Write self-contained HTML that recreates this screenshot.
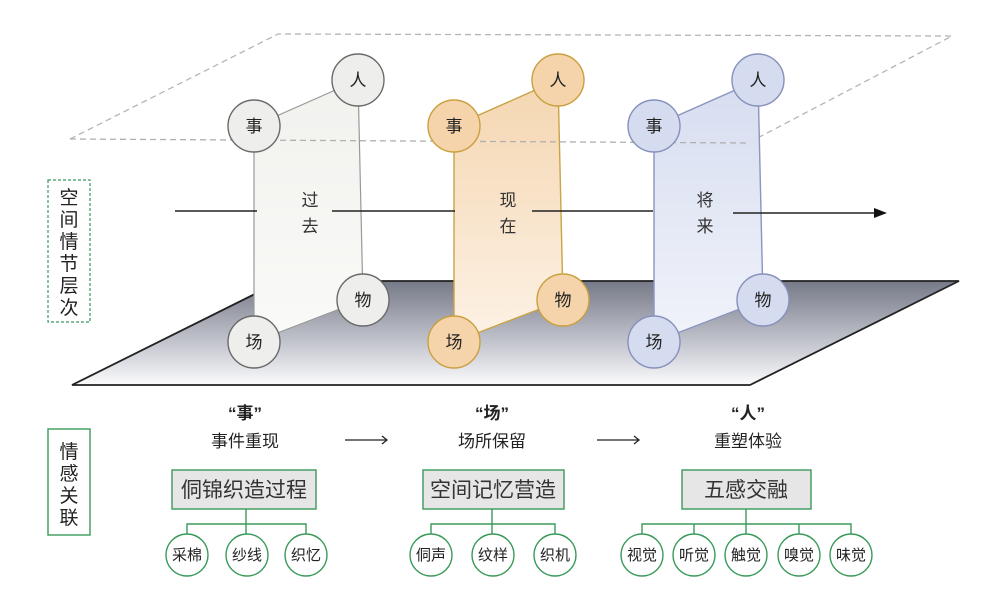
<!DOCTYPE html>
<html><head><meta charset="utf-8"><style>
html,body{margin:0;padding:0;background:#fff;}
svg text{font-family:"Liberation Sans","Noto Sans CJK SC",sans-serif;}
</style></head><body>
<svg width="997" height="591" viewBox="0 0 997 591" xmlns="http://www.w3.org/2000/svg">
<defs>
<linearGradient id="floor" x1="0" y1="0" x2="0" y2="1">
<stop offset="0" stop-color="#767987"/><stop offset="0.6" stop-color="#c4c6cf"/><stop offset="1" stop-color="#fbfbfc"/></linearGradient>
<linearGradient id="p1" x1="0" y1="0" x2="0" y2="1"><stop offset="0" stop-color="#f1f1ee"/><stop offset="1" stop-color="#fafaf8"/></linearGradient>
<linearGradient id="p2" x1="0" y1="0" x2="0" y2="1"><stop offset="0" stop-color="#f4d6b0"/><stop offset="1" stop-color="#fdf2e6"/></linearGradient>
<linearGradient id="p3" x1="0" y1="0" x2="0" y2="1"><stop offset="0" stop-color="#d6ddf0"/><stop offset="1" stop-color="#f1f3fa"/></linearGradient>
</defs>
<!-- dashed top plane -->
<polyline points="70,139 278,34 952,36 748,143" fill="none" stroke="#b5b5b5" stroke-width="1.3" stroke-dasharray="6,4"/>
<!-- floor -->
<polygon points="72,385 281,281 959,281 750,385" fill="url(#floor)" stroke="#222" stroke-width="1.8"/>
<!-- panels -->
<polygon points="254,126 358,80 363,300 254,342" fill="url(#p1)" stroke="#999" stroke-width="1.2"/>
<polygon points="454,126 558,80 563,300 454,342" fill="url(#p2)" stroke="#c9a445" stroke-width="1.4"/>
<polygon points="654,126 758,80 763,300 654,342" fill="url(#p3)" stroke="#8a95c0" stroke-width="1.4"/>
<line x1="70" y1="139" x2="748" y2="143" stroke="#b0b0b0" stroke-width="1.3" stroke-dasharray="6,4"/>
<!-- timeline -->
<g stroke="#222" stroke-width="1.5">
<line x1="175" y1="211" x2="257" y2="211"/>
<line x1="332" y1="211" x2="455" y2="211"/>
<line x1="532" y1="211" x2="653" y2="211"/>
<line x1="733" y1="213" x2="876" y2="213"/>
</g>
<polygon points="874,208 887,213 874,218" fill="#111"/>
<g font-size="17" fill="#333" text-anchor="middle">
<text x="310" y="206">过</text><text x="310" y="232">去</text>
<text x="508" y="206">现</text><text x="508" y="232">在</text>
<text x="705" y="206">将</text><text x="705" y="232">来</text>
</g>
<!-- circles -->
<g stroke-width="1.4">
<g stroke="#6a6a6a"><circle cx="254" cy="126" r="26" fill="#eeeeec"/><circle cx="358" cy="80" r="26" fill="#eeeeec"/><circle cx="363" cy="300" r="26" fill="#eeeeec"/><circle cx="254" cy="342" r="26" fill="#eeeeec"/></g>
<g stroke="#c9a040"><circle cx="454" cy="126" r="26" fill="#f5d3ab"/><circle cx="558" cy="80" r="26" fill="#f5d3ab"/><circle cx="563" cy="300" r="26" fill="#f5d3ab"/><circle cx="454" cy="342" r="26" fill="#f5d3ab"/></g>
<g stroke="#8790bb"><circle cx="654" cy="126" r="26" fill="#d5dcef"/><circle cx="758" cy="80" r="26" fill="#d5dcef"/><circle cx="763" cy="300" r="26" fill="#d5dcef"/><circle cx="654" cy="342" r="26" fill="#d5dcef"/></g>
</g>
<g font-size="17" text-anchor="middle" fill="#222">
<text x="254" y="132">事</text><text x="358" y="86">人</text><text x="363" y="306">物</text><text x="254" y="348">场</text>
<text x="454" y="132">事</text><text x="558" y="86">人</text><text x="563" y="306">物</text><text x="454" y="348">场</text>
<text x="654" y="132">事</text><text x="758" y="86">人</text><text x="763" y="306">物</text><text x="654" y="348">场</text>
</g>
<!-- left labels -->
<rect x="48" y="180" width="42" height="142" fill="none" stroke="#3a9a5a" stroke-width="1.2" stroke-dasharray="3,2"/>
<g font-size="19" text-anchor="middle" fill="#222">
<text x="69" y="204">空</text><text x="69" y="226">间</text><text x="69" y="248">情</text><text x="69" y="270">节</text><text x="69" y="292">层</text><text x="69" y="314">次</text>
</g>
<rect x="48" y="429" width="42" height="106" fill="none" stroke="#3a9a5a" stroke-width="1.4"/>
<g font-size="19" text-anchor="middle" fill="#222">
<text x="69" y="458">情</text><text x="69" y="480">感</text><text x="69" y="502">关</text><text x="69" y="524">联</text>
</g>
<!-- bottom titles -->
<g font-size="17" text-anchor="middle" fill="#222">
<text x="245" y="419" font-weight="bold">“事”</text><text x="245" y="447">事件重现</text>
<text x="492" y="419" font-weight="bold">“场”</text><text x="492" y="447">场所保留</text>
<text x="748" y="419" font-weight="bold">“人”</text><text x="748" y="447">重塑体验</text>
</g>
<g stroke="#222" stroke-width="1.3">
<line x1="345" y1="440" x2="387" y2="440"/><polyline points="382,436 387,440 382,444" fill="none"/>
<line x1="597" y1="440" x2="639" y2="440"/><polyline points="634,436 639,440 634,444" fill="none"/>
</g>
<!-- boxes -->
<g fill="#e6e6e6" stroke="#3a9a5a" stroke-width="1.4">
<rect x="172" y="470" width="144" height="39"/>
<rect x="423" y="470" width="141" height="39"/>
<rect x="682" y="470" width="129" height="39"/>
</g>
<g font-size="21" text-anchor="middle" fill="#333">
<text x="244" y="497">侗锦织造过程</text>
<text x="493" y="497">空间记忆营造</text>
<text x="746" y="497">五感交融</text>
</g>
<!-- tree lines -->
<g stroke="#3a9a5a" stroke-width="1.4" fill="none">
<line x1="246" y1="509" x2="246" y2="524"/><polyline points="187,534 187,524 306,524 306,534"/><line x1="246" y1="524" x2="246" y2="534"/>
<line x1="492" y1="509" x2="492" y2="524"/><polyline points="431,534 431,524 555,524 555,534"/><line x1="492" y1="524" x2="492" y2="534"/>
<line x1="746" y1="509" x2="746" y2="524"/><polyline points="642,534 642,524 851,524 851,534"/><line x1="694" y1="524" x2="694" y2="534"/><line x1="746" y1="524" x2="746" y2="534"/><line x1="799" y1="524" x2="799" y2="534"/>
</g>
<g fill="#fff" stroke="#3a9a5a" stroke-width="1.4">
<circle cx="187" cy="555" r="21"/><circle cx="247" cy="555" r="21"/><circle cx="306" cy="555" r="21"/>
<circle cx="431" cy="555" r="21"/><circle cx="493" cy="555" r="21"/><circle cx="555" cy="555" r="21"/>
<circle cx="642" cy="555" r="21"/><circle cx="694" cy="555" r="21"/><circle cx="746" cy="555" r="21"/><circle cx="799" cy="555" r="21"/><circle cx="851" cy="555" r="21"/>
</g>
<g font-size="15" text-anchor="middle" fill="#222">
<text x="187" y="560">采棉</text><text x="247" y="560">纱线</text><text x="306" y="560">织忆</text>
<text x="431" y="560">侗声</text><text x="493" y="560">纹样</text><text x="555" y="560">织机</text>
<text x="642" y="560">视觉</text><text x="694" y="560">听觉</text><text x="746" y="560">触觉</text><text x="799" y="560">嗅觉</text><text x="851" y="560">味觉</text>
</g>
</svg>
</body></html>
